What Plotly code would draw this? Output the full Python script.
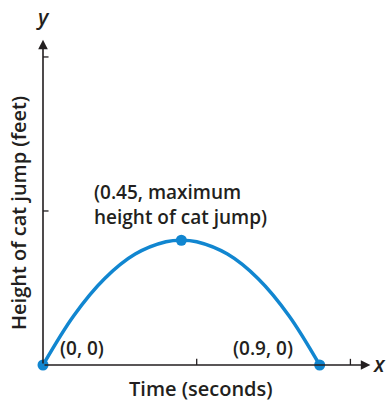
import plotly.graph_objects as go

# Cat jump: time (s) vs height (ft)
TIME_S = [0.0, 0.1, 0.2, 0.3, 0.4, 0.45, 0.5, 0.6, 0.7, 0.8, 0.9]
HEIGHT_FT = [0.0, 1.28, 2.24, 2.88, 3.2, 3.24, 3.2, 2.88, 2.24, 1.28, 0.0]

# Labelled points
KEY_T = [0.0, 0.45, 0.9]
KEY_H = [0.0, 3.24, 0.0]

X_TICKS = [0.5, 1.0]
Y_TICKS = [4, 8]

X_MAX, Y_MAX = 1.08, 8.96
X_ARROW, Y_ARROW = 1.065, 8.45

BLUE = "#1186d0"
INK = "#231f20"
FONT = "Open Sans"

fig = go.Figure()

# axis lines with arrowheads
fig.add_annotation(x=X_ARROW, y=0, ax=0, ay=0, xref="x", yref="y", axref="x", ayref="y",
                   showarrow=True, arrowhead=2, arrowsize=1.2, arrowwidth=1.6,
                   arrowcolor=INK, text="")
fig.add_annotation(x=0, y=Y_ARROW, ax=0, ay=0, xref="x", yref="y", axref="x", ayref="y",
                   showarrow=True, arrowhead=2, arrowsize=1.2, arrowwidth=1.6,
                   arrowcolor=INK, text="")

# tick marks crossing the axes
for t in X_TICKS:
    fig.add_shape(type="line", xref="x", yref="y", x0=t, x1=t, y0=-0.16, y1=0.16,
                  line=dict(color=INK, width=1.3))
for t in Y_TICKS:
    fig.add_shape(type="line", xref="x", yref="y", x0=-0.018, x1=0.018, y0=t, y1=t,
                  line=dict(color=INK, width=1.3))

fig.add_trace(go.Scatter(x=TIME_S, y=HEIGHT_FT, mode="lines",
                         line=dict(color=BLUE, width=3.5, shape="spline"),
                         cliponaxis=False, hoverinfo="skip"))
fig.add_trace(go.Scatter(x=KEY_T, y=KEY_H, mode="markers",
                         marker=dict(color=BLUE, size=11),
                         cliponaxis=False, hoverinfo="skip"))

lab = dict(family=FONT, size=19, color=INK, weight=600)
fig.add_annotation(x=KEY_T[0], y=KEY_H[0], text="(0, 0)", showarrow=False,
                   xanchor="left", yanchor="bottom", xshift=15, yshift=2, font=lab)
fig.add_annotation(x=KEY_T[2], y=KEY_H[2], text="(0.9, 0)", showarrow=False,
                   xanchor="right", yanchor="bottom", xshift=-25, yshift=2, font=lab)
fig.add_annotation(x=KEY_T[1], y=KEY_H[1], text="(0.45, maximum<br>height of cat jump)",
                   showarrow=False, align="left", xanchor="center", yanchor="bottom",
                   xshift=-1, yshift=8, font=lab)

# axis names
title_font = dict(family=FONT, size=20, color=INK, weight=600)
fig.add_annotation(x=0.515, y=-0.067, xref="x", yref="paper", text="Time (seconds)",
                   showarrow=False, xanchor="center", yanchor="middle", font=title_font)
fig.add_annotation(xref="paper", yref="paper", x=-0.076, y=0.44,
                   text="Height of cat jump (feet)", textangle=-90, showarrow=False,
                   xanchor="center", yanchor="middle", font=title_font)
fig.add_annotation(x=X_MAX, y=0, text="<i>x</i>", showarrow=False, xanchor="center",
                   yanchor="middle", xshift=4, yshift=1,
                   font=dict(family=FONT, size=21, color=INK, weight=600))
fig.add_annotation(x=0, y=Y_MAX, text="<i>y</i>", showarrow=False, xanchor="center",
                   yanchor="middle", yshift=3,
                   font=dict(family=FONT, size=21, color=INK, weight=600))

fig.update_xaxes(range=[0, X_MAX], visible=False)
fig.update_yaxes(range=[0, Y_MAX], visible=False)
fig.update_layout(width=386, height=401, margin=dict(l=43, r=11, t=20, b=36),
                  plot_bgcolor="white", paper_bgcolor="white", showlegend=False)

fig.write_html("out.html")
